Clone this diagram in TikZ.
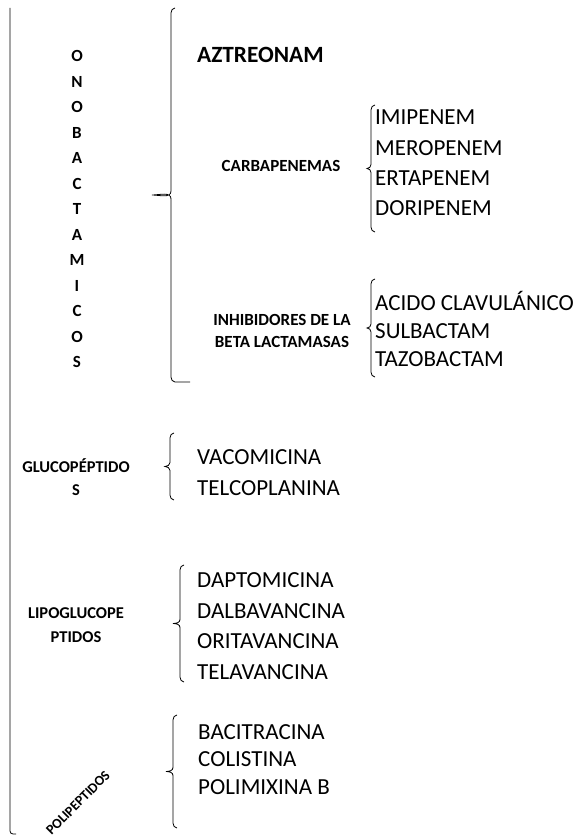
\documentclass[tikz,border=0pt]{standalone}
\usepackage{fontspec}
\setmainfont{Carlito}
\usetikzlibrary{positioning}
\tikzset{
    group label/.style={font=\fontsize{17}{20}\selectfont\bfseries,inner sep=0pt,align=center},
    drug list/.style={font=\fontsize{23}{#1}\selectfont,inner sep=0pt,align=left,anchor=west},
    bracket line/.style={line width=0.8pt},
    brace path/.style 2 args={insert path={to[out=180,in=90] ++(-4,-5) -- ++(0,-#1)
        to[out=-90,in=0] ++(-#2,-4) to[out=0,in=90] ++(#2,-4) -- ++(0,-#1)
        to[out=-90,in=180] ++(4,-5)}},
    spine line/.style={line width=0.8pt,rounded corners=3pt}
}
\begin{document}
\begin{tikzpicture}[x=1pt,y=1pt]
    \useasboundingbox (0,0) rectangle (581,839);
    % left spine
    \coordinate (spineTop) at (10,831);
    \coordinate (spineBot) at (16,5);
    \draw[spine line] (spineTop) |- (spineBot);
    % group labels
    \node[group label, font=\fontsize{17}{25.5}\selectfont\bfseries] (ono) at (77,630) {O\\N\\O\\B\\A\\C\\T\\A\\M\\I\\C\\O\\S};
    \node[group label, font=\fontsize{23.3}{27}\selectfont\bfseries, anchor=west] (aztreo) at (197,784) {AZTREONAM};
    \node[group label] (carba) at (281,673) {CARBAPENEMAS};
    \node[group label, font=\fontsize{17}{22}\selectfont\bfseries] (inhib) at (282,508) {INHIBIDORES DE LA\\BETA LACTAMASAS};
    \node[group label, font=\fontsize{16.5}{23}\selectfont\bfseries] (gluco) at (76,362) {GLUCOPÉPTIDO\\S};
    \node[group label, font=\fontsize{16.5}{24}\selectfont\bfseries] (lipo) at (76,214) {LIPOGLUCOPE\\PTIDOS};
    \node[group label, font=\fontsize{14}{17}\selectfont\bfseries, rotate=45] (poli) at (78,36) {POLIPEPTIDOS};
    % drug lists
    \node[drug list=30.3] (carbaList) at (375,676) {IMIPENEM\\MEROPENEM\\ERTAPENEM\\DORIPENEM};
    \node[drug list=28] (betaList) at (375,510) {ACIDO CLAVULÁNICO\\SULBACTAM\\TAZOBACTAM};
    \node[drug list=31] (glucoList) at (197,366.5) {VACOMICINA\\TELCOPLANINA};
    \node[drug list=30.7] (lipoList) at (197,213) {DAPTOMICINA\\DALBAVANCINA\\ORITAVANCINA\\TELAVANCINA};
    \node[drug list=27.5] (poliList) at (198,79.5) {BACITRACINA\\COLISTINA\\POLIMIXINA B};
    % brace tops
    \coordinate (bigTop) at (175,831);
    \coordinate (bigBot) at (190,457);
    \coordinate (carbaTop) at (375,734);
    \coordinate (betaTop) at (375,560);
    \coordinate (glucoTop) at (174,406);
    \coordinate (lipoTop) at (184,274);
    \coordinate (poliTop) at (177,124);
    \draw[bracket line] (bigTop) [brace path={178}{19}] -- (bigBot);
    \draw[bracket line] (carbaTop) [brace path={54.5}{4}];
    \draw[bracket line] (betaTop) [brace path={40}{4}];
    \draw[bracket line] (glucoTop) [brace path={24.5}{5}];
    \draw[bracket line] (lipoTop) [brace path={49.5}{7}];
    \draw[bracket line] (poliTop) [brace path={47.5}{7}];
\end{tikzpicture}
\end{document}
